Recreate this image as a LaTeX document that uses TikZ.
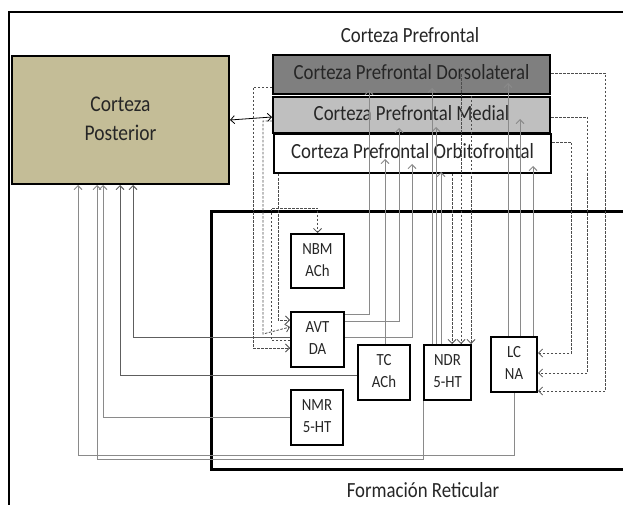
\documentclass[tikz,border=0pt]{standalone}
\usepackage{fontspec}
\setmainfont{Carlito}
\usepackage{graphicx}
\usetikzlibrary{arrows.meta}

\definecolor{tanfill}{HTML}{C4BD97}
\definecolor{dlgray}{HTML}{7F7F7F}
\definecolor{mgray}{HTML}{BFBFBF}
\definecolor{wirec}{HTML}{8A8A8A}
\definecolor{wiredark}{HTML}{5E5E5E}
\definecolor{dashc}{HTML}{4D4D4D}
\definecolor{txt}{HTML}{262626}

% slightly tall lettering, one or more centred lines
\newcommand{\tall}[1]{\scalebox{1}[1.15]{\begin{tabular}{@{}c@{}}#1\end{tabular}}}

\begin{document}
\begin{tikzpicture}[x=1pt,y=-1pt,
  box/.style={draw=black, line width=2.4pt, rectangle, inner sep=0pt, text=txt, align=center},
  nucleus/.style={box, minimum height=54.6pt, font=\fontsize{14.8}{19}\selectfont},
  pfc/.style={box, minimum width=276.6pt, font=\fontsize{18.8}{22}\selectfont},
  heading/.style={text=txt, inner sep=0pt, font=\fontsize{18.8}{22}\selectfont},
  wire/.style={draw=wirec, line width=0.9pt},
  darkwire/.style={draw=wiredark, line width=0.9pt},
  tip/.style={-{Straight Barb[length=4pt,width=8pt]}},
  dsh/.style={draw=dashc, line width=0.8pt, dash pattern=on 2.5pt off 1.5pt},
]
\useasboundingbox[fill=white] (0,0) rectangle (623,505);

% outer frame
\draw[line width=2pt] (623,12) -- (9,12) -- (9,505);

% reticular formation region
\draw[line width=3pt] (623,211) -- (211,211) -- (211,469) -- (623,469);

% headings
\node[heading] (pfctitle) at (410,37) {\tall{Corteza Prefrontal}};
\node[heading] (frtitle) at (423,492) {\tall{Formación Reticular}};

% cortical areas
\node[box, fill=tanfill, minimum width=216.6pt, minimum height=127.6pt,
      font=\fontsize{19.5}{26}\selectfont] (POST) at (120.5,120) {\tall{Corteza\\Posterior}};
\node[pfc, fill=dlgray, minimum height=38.6pt] (DL) at (411.5,74.5) {\tall{Corteza Prefrontal Dorsolateral}};
\node[pfc, fill=mgray, minimum height=35.6pt] (M) at (411.5,115) {\tall{Corteza Prefrontal Medial}};
\node[pfc, fill=white, minimum height=38.6pt] (OF) at (412.5,153.5) {\tall{Corteza Prefrontal Orbitofrontal}};

% brainstem nuclei
\node[nucleus, fill=white, minimum width=52.6pt, minimum height=53.6pt] (NBM) at (317.5,261) {\tall{NBM\\ACh}};
\node[nucleus, fill=white, minimum width=52.6pt] (AVT) at (317.5,339.5) {\tall{AVT\\DA}};
\node[nucleus, fill=white, minimum width=51.6pt] (TC) at (384,372.5) {\tall{TC\\ACh}};
\node[nucleus, fill=white, minimum width=46.6pt] (NDR) at (447.5,372.5) {\tall{NDR\\5-HT}};
\node[nucleus, fill=white, minimum width=45.6pt] (LC) at (514,364.5) {\tall{LC\\NA}};
\node[nucleus, fill=white, minimum width=51.6pt] (NMR) at (317,417.5) {\tall{NMR\\5-HT}};

% posterior <-> medial prefrontal
\draw[line width=0.8pt, {Straight Barb[length=4pt,width=8pt]}-{Straight Barb[length=4pt,width=8pt]}]
  (POST.east) -- (M.west |- 0,117);

% ascending projections to the prefrontal areas
\draw[wire, tip, shorten >=-5pt]  (AVT.east |- 0,314) -| (DL.south -| 369,0);
\draw[wire, tip, shorten >=-6pt]  (AVT.east |- 0,321) -| (M.south -| 399,0);
\draw[wire, tip, shorten >=-10pt] (AVT.east |- 0,337) -| (OF.south -| 412,0);
\draw[wire, tip, shorten >=-15pt] (TC.north -| 385,0) -- (OF.south -| 385,0);
\draw[wire, tip, shorten >=-7pt]  (NDR.north -| 432,0) -- (DL.south -| 432,0);
\draw[wire, tip, shorten >=-7pt]  (NDR.north -| 436,0) -- (M.south -| 436,0);
\draw[wire, tip, shorten >=-2pt]  (NDR.north -| 441,0) -- (OF.south -| 441,0);
\draw[wire, tip, shorten >=-12pt] (LC.north -| 508,0) -- (DL.south -| 508,0);
\draw[wire, tip, shorten >=-15pt] (LC.north -| 520,0) -- (M.south -| 520,0);
\draw[wire, tip, shorten >=-8pt]  (LC.north -| 533,0) -- (OF.south -| 533,0);

% ascending projections to the posterior cortex
\draw[darkwire, tip] (AVT.west |- 0,337) -| (POST.south -| 133,0);
\draw[darkwire, tip] (TC.west |- 0,375) -| (POST.south -| 120,0);
\draw[wire, tip] (NMR.west |- 0,417) -| (POST.south -| 103,0);
\draw[wire, tip] (LC.south) |- (78,455) -- (POST.south -| 78,0);
\draw[wire, tip] (NDR.south west) |- (97,459) -- (POST.south -| 97,0);

% descending prefrontal projections to LC
\draw[dsh, tip] (DL.east |- 0,73) -| (605,391) -- (LC.east |- 0,391);
\draw[dsh, tip] (M.east |- 0,117) -| (587,373) -- (LC.east |- 0,373);
\draw[dsh, tip] (OF.east |- 0,142) -| (571,353) -- (LC.east |- 0,353);

% descending prefrontal projections to NDR
\draw[dsh, tip] (DL.center -| 461,0) -- (NDR.north -| 461,0);
\draw[dsh, tip] (M.north -| 471,0) -- (NDR.north -| 471,0);
\draw[dsh, tip] (OF.south -| 452,0) -- (NDR.north -| 452,0);

% descending prefrontal projections to AVT
\draw[dsh, tip] (DL.west |- 0,87) -| (253,348) -- (AVT.west |- 0,348);
\draw[dsh, tip] (M.west |- 0,121) -| (263,334) -- (AVT.west |- 0,327);
\draw[dsh, tip] (OF.south -| 278,0) |- (AVT.west |- 0,320);

% AVT to NBM
\draw[dsh, tip] (AVT.west |- 0,340) -| (271,208) -| (NBM.north);
\end{tikzpicture}
\end{document}
